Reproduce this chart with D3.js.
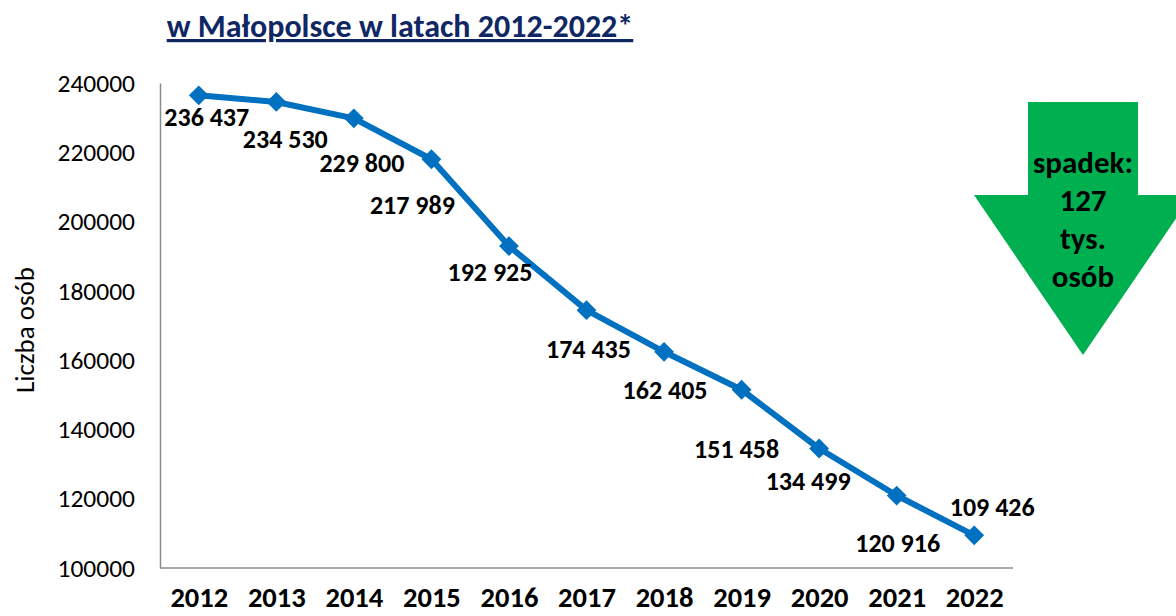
<!DOCTYPE html>
<html>
<head>
<meta charset="utf-8">
<script src="https://cdn.jsdelivr.net/npm/d3@7"></script>
<style>
  body { margin: 0; background: #fff; }
  svg { display: block; font-family: Calibri, Carlito, Lato, sans-serif; }
</style>
</head>
<body>
<div id="chart"></div>
<script>
// ---------- data ----------
var years = ["2012", "2013", "2014", "2015", "2016", "2017", "2018", "2019", "2020", "2021", "2022"];
var values = [236437, 234530, 229800, 217989, 192925, 174435, 162405, 151458, 134499, 120916, 109426];
var yTicks = [100000, 120000, 140000, 160000, 180000, 200000, 220000, 240000];
var arrowText = ["spadek:", "127", "tys.", "osób"];

// label offsets from each point (dx, dy) as placed in the original
var labelDx = [8, 9, 8, -19, -19, 2, 1, -5, -11, 1, 18];
var labelDy = [22, 37, 45, 46, 26, 39, 38, 59, 32, 47, -28];

var width = 1176, height = 616;
var margin = {top: 83, right: 163, bottom: 48, left: 160};
var font = "Calibri, Carlito, Lato, sans-serif";

var fmt = function(v) {
    return d3.format(",")(v).replace(/,/g, " ");
};

var svg = d3.select("#chart").append("svg")
    .attr("width", width)
    .attr("height", height);

var x = d3.scalePoint()
    .domain(years)
    .range([margin.left, width - margin.right])
    .padding(0.5);

var y = d3.scaleLinear()
    .domain([100000, 240000])
    .range([height - margin.bottom, margin.top]);

// title
svg.append("text")
    .attr("x", 400)
    .attr("y", 37)
    .attr("text-anchor", "middle")
    .style("font-size", "32px")
    .style("font-weight", "bold")
    .style("fill", "#0F2763")
    .style("text-decoration", "underline")
    .text("w Małopolsce w latach 2012-2022*");

// axes
var yAxis = svg.append("g")
    .attr("transform", "translate(" + margin.left + ",0)")
    .call(d3.axisLeft(y).tickValues(yTicks).tickSize(0).tickPadding(25).tickFormat(d3.format("d")));
yAxis.select(".domain").attr("stroke", "#8c8c8c").attr("stroke-width", 1.5);
yAxis.selectAll("text")
    .style("font-family", font)
    .style("font-size", "25.5px")
    .style("fill", "#000");

var xAxis = svg.append("g")
    .attr("transform", "translate(0," + (height - margin.bottom) + ")")
    .call(d3.axisBottom(x).tickSize(0).tickPadding(19));
xAxis.select(".domain").attr("stroke", "#8c8c8c").attr("stroke-width", 1.5)
    .attr("d", "M" + margin.left + ",0H" + (width - margin.right));
xAxis.selectAll("text")
    .style("font-family", font)
    .style("font-size", "28.5px")
    .style("font-weight", "bold")
    .style("fill", "#000");

// y axis title
svg.append("text")
    .attr("transform", "translate(34,330) rotate(-90)")
    .attr("text-anchor", "middle")
    .style("font-size", "27px")
    .style("fill", "#000")
    .text("Liczba osób");

// line
var line = d3.line()
    .x(function(d, i) { return x(years[i]); })
    .y(function(d) { return y(d); });

svg.append("path")
    .datum(values)
    .attr("d", line)
    .style("fill", "none")
    .style("stroke", "#0070C0")
    .style("stroke-width", 6)
    .style("stroke-linejoin", "round");

svg.selectAll("path.marker")
    .data(values)
    .enter()
    .append("path")
    .attr("class", "marker")
    .attr("d", d3.symbol().type(d3.symbolDiamond2).size(250))
    .attr("transform", function(d, i) { return "translate(" + x(years[i]) + "," + y(d) + ")"; })
    .style("fill", "#0070C0");

svg.selectAll("text.lbl")
    .data(values)
    .enter()
    .append("text")
    .attr("class", "lbl")
    .attr("x", function(d, i) { return x(years[i]) + labelDx[i]; })
    .attr("y", function(d, i) { return y(d) + labelDy[i]; })
    .attr("dy", "0.35em")
    .attr("text-anchor", "middle")
    .style("font-size", "26px")
    .style("font-weight", "bold")
    .style("fill", "#000")
    .text(function(d) { return fmt(d); });

// green arrow
var ax = 1083;
svg.append("path")
    .attr("d", "M" + (ax - 55) + ",102H" + (ax + 55) + "V195H" + (ax + 109) +
        "L" + ax + ",355L" + (ax - 109) + ",195H" + (ax - 55) + "Z")
    .style("fill", "#00B050");

svg.selectAll("text.arrow")
    .data(arrowText)
    .enter()
    .append("text")
    .attr("class", "arrow")
    .attr("x", ax)
    .attr("y", function(d, i) { return 162 + i * 38; })
    .attr("dy", "0.35em")
    .attr("text-anchor", "middle")
    .style("font-size", "31px")
    .style("font-weight", "bold")
    .style("fill", "#000")
    .text(function(d) { return d; });
</script>
</body>
</html>
